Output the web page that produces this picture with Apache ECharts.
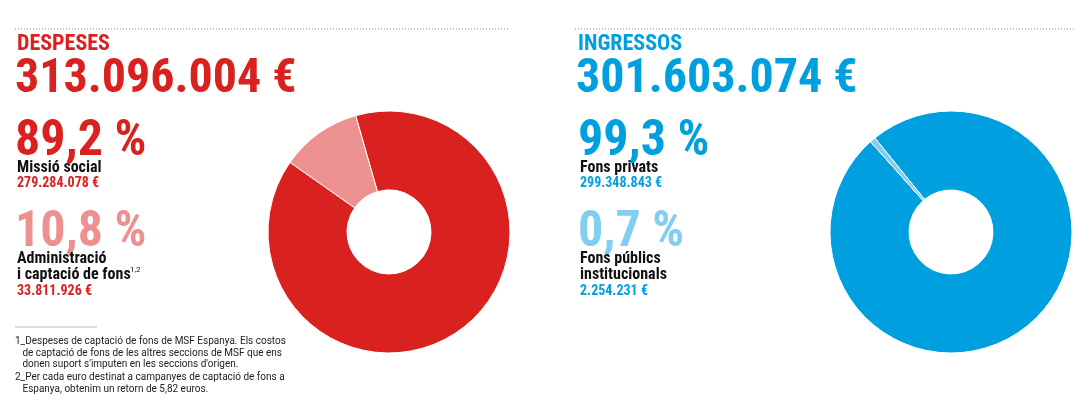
<!DOCTYPE html><html><head><meta charset="utf-8"><script src="https://cdn.jsdelivr.net/npm/echarts@6/dist/echarts.min.js"></script>
<style>body{margin:0;background:#fff}#c{width:1090px;height:402px}</style></head><body><div id="c"></div><script>
const despesesCats=['Missió social','Administració i captació de fons'];
const despesesVals=[279284078,33811926];
const ingressosCats=['Fons privats','Fons públics institucionals'];
const ingressosVals=[299348843,2254231];
const RED='#d9211f',LRED='#ec918f',BLUE='#009fe0',LBLUE='#80cff0';
const F='"Liberation Sans Narrow","Roboto Condensed",Roboto,sans-serif';
const t=(x,y,text,size,color,weight)=>({type:'text',left:x,top:y,style:{text,fontSize:size,fill:color,fontWeight:weight||'bold',fontFamily:F}});
const chart=echarts.init(document.getElementById('c'));
const fn='"Liberation Sans Narrow",Roboto,sans-serif';
chart.setOption({
 animation:false,
 graphic:[
  {type:'line',shape:{x1:15,y1:29,x2:510,y2:29},style:{stroke:'#888',lineDash:[1,2],lineWidth:1}},
  {type:'line',shape:{x1:575,y1:29,x2:1075,y2:29},style:{stroke:'#888',lineDash:[1,2],lineWidth:1}},
  t(17,33,'DESPESES',22,RED),
  t(15,56,'313.096.004 €',48,RED),
  t(15,117,'89,2 %',50,RED),
  t(17,160,'Missió social',16,'#111'),
  t(17,176,'279.284.078 €',14,RED),
  t(15,208,'10,8 %',50,LRED),
  t(17,251,'Administració',16,'#111'),
  t(17,267,'i captació de fons',16,'#111'),
  {type:'text',left:130,top:266,style:{text:'1,2',fontSize:8,fill:'#111',fontFamily:fn}},
  t(17,284,'33.811.926 €',14,RED),
  {type:'line',shape:{x1:15,y1:327,x2:97,y2:327},style:{stroke:'#bbb',lineWidth:1}},
  {type:'text',left:15,top:336,style:{text:'1_Despeses de captació de fons de MSF Espanya. Els costos\n   de captació de fons de les altres seccions de MSF que ens\n   donen suport s\'imputen en les seccions d\'origen.',fontSize:10,lineHeight:11.5,fill:'#222',fontFamily:fn}},
  {type:'text',left:15,top:372,style:{text:'2_Per cada euro destinat a campanyes de captació de fons a\n   Espanya, obtenim un retorn de 5,82 euros.',fontSize:10,lineHeight:11.5,fill:'#222',fontFamily:fn}},
  t(578,33,'INGRESSOS',22,BLUE),
  t(576,56,'301.603.074 €',48,BLUE),
  t(578,117,'99,3 %',50,BLUE),
  t(580,160,'Fons privats',16,'#111'),
  t(580,176,'299.348.843 €',14,BLUE),
  t(578,208,'0,7 %',50,LBLUE),
  t(580,251,'Fons públics',16,'#111'),
  t(580,267,'institucionals',16,'#111'),
  t(580,284,'2.254.231 €',14,BLUE)
 ],
 series:[
  {type:'pie',center:[389,232],radius:[42,121],startAngle:106,clockwise:true,label:{show:false},labelLine:{show:false},silent:true,
   itemStyle:{borderColor:'#fff',borderWidth:1},
   data:despesesCats.map((n,i)=>({name:n,value:despesesVals[i],itemStyle:{color:[RED,LRED][i]}}))},
  {type:'pie',center:[951,232],radius:[42,121],startAngle:129,clockwise:true,label:{show:false},labelLine:{show:false},silent:true,
   itemStyle:{borderColor:'#fff',borderWidth:1},
   data:ingressosCats.map((n,i)=>({name:n,value:ingressosVals[i],itemStyle:{color:[BLUE,LBLUE][i]}}))}
 ]
});
</script></body></html>
